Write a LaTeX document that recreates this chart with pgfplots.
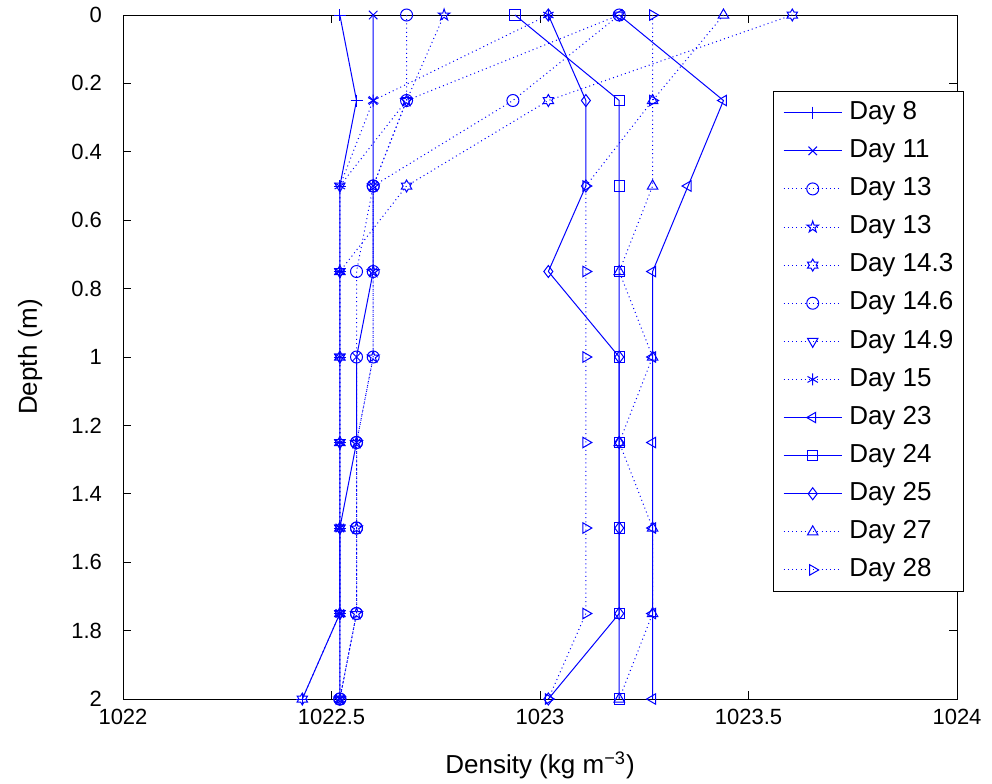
\documentclass[border=0pt]{standalone}
\usepackage{pgfplots}
\pgfplotsset{compat=1.18}
\usepackage{fontspec}
\setmainfont{Liberation Sans}
\usetikzlibrary{plotmarks}

\pgfdeclareplotmark{pentagram}{%
 \pgfpathmoveto{\pgfpointpolar{90}{\pgfplotmarksize}}%
 \pgfpathlineto{\pgfpointpolar{126}{0.382*\pgfplotmarksize}}%
 \pgfpathlineto{\pgfpointpolar{162}{\pgfplotmarksize}}%
 \pgfpathlineto{\pgfpointpolar{198}{0.382*\pgfplotmarksize}}%
 \pgfpathlineto{\pgfpointpolar{234}{\pgfplotmarksize}}%
 \pgfpathlineto{\pgfpointpolar{270}{0.382*\pgfplotmarksize}}%
 \pgfpathlineto{\pgfpointpolar{306}{\pgfplotmarksize}}%
 \pgfpathlineto{\pgfpointpolar{342}{0.382*\pgfplotmarksize}}%
 \pgfpathlineto{\pgfpointpolar{18}{\pgfplotmarksize}}%
 \pgfpathlineto{\pgfpointpolar{54}{0.382*\pgfplotmarksize}}%
 \pgfpathclose\pgfusepathqstroke}
\pgfdeclareplotmark{hexagram}{%
 \pgfpathmoveto{\pgfpointpolar{90}{\pgfplotmarksize}}%
 \pgfpathlineto{\pgfpointpolar{120}{0.577*\pgfplotmarksize}}%
 \pgfpathlineto{\pgfpointpolar{150}{\pgfplotmarksize}}%
 \pgfpathlineto{\pgfpointpolar{180}{0.577*\pgfplotmarksize}}%
 \pgfpathlineto{\pgfpointpolar{210}{\pgfplotmarksize}}%
 \pgfpathlineto{\pgfpointpolar{240}{0.577*\pgfplotmarksize}}%
 \pgfpathlineto{\pgfpointpolar{270}{\pgfplotmarksize}}%
 \pgfpathlineto{\pgfpointpolar{300}{0.577*\pgfplotmarksize}}%
 \pgfpathlineto{\pgfpointpolar{330}{\pgfplotmarksize}}%
 \pgfpathlineto{\pgfpointpolar{0}{0.577*\pgfplotmarksize}}%
 \pgfpathlineto{\pgfpointpolar{30}{\pgfplotmarksize}}%
 \pgfpathlineto{\pgfpointpolar{60}{0.577*\pgfplotmarksize}}%
 \pgfpathclose\pgfusepathqstroke}

\tikzset{mydot/.style={dash pattern=on 0.5pt off 1.6pt}}

\begin{document}
\begin{tikzpicture}
\begin{axis}[
  scale only axis, width=417pt, height=342pt,
  xmin=1022, xmax=1024, ymin=0, ymax=2, y dir=reverse,
  xtick={1022,1022.5,1023,1023.5,1024},
  xticklabels={1022,1022.5,1023,1023.5,1024},
  ytick={0,0.2,0.4,0.6,0.8,1,1.2,1.4,1.6,1.8,2},
  yticklabels={0,0.2,0.4,0.6,0.8,1,1.2,1.4,1.6,1.8,2},
  tick align=inside, major tick length=4pt,
  tick style={black, line width=0.4pt},
  axis line style={black, line width=0.5pt},
  ticklabel style={font=\fontsize{11}{13}\selectfont},
  xticklabel style={yshift=-1.5pt},
  yticklabel style={xshift=-7pt},
  xlabel={Density (kg m\textsuperscript{−3})},
  ylabel={Depth (m)},
  xlabel style={font=\fontsize{13}{15}\selectfont, at={([yshift=-37pt]axis description cs:0.5,0)}, anchor=base},
  ylabel style={font=\fontsize{13}{15}\selectfont, at={([xshift=-43pt]axis description cs:0,0.5)}, anchor=base, rotate=0},
  clip=false,
  every axis plot/.append style={blue, line width=0.5pt, mark size=3pt},
  legend image code/.code={\draw[mark repeat=2,mark phase=2,#1] plot coordinates {(0cm,0cm) (0.51cm,0cm) (1.02cm,0cm)};},
  legend style={at={(0.779,0.889)}, anchor=north west, draw=black, line width=0.5pt,
    font=\fontsize{13}{15}\selectfont, inner xsep=5pt, inner ysep=4.5pt,
    row sep=6.75pt, column sep=3.5pt,
    nodes={inner sep=0pt, text height=9.5pt, text depth=2.8pt}},
  legend cell align=left,
]
\coordinate (sw) at (axis description cs:0,0);
\coordinate (ne) at (axis description cs:1,1);
% Day 8
\addplot[mark=+, mark options={solid}] coordinates {
(1022.52,0) (1022.56,0.25) (1022.52,0.5) (1022.52,0.75) (1022.52,1) (1022.52,1.25) (1022.52,1.5) (1022.52,1.75) (1022.43,2)};
% Day 11
\addplot[mark=x, mark options={solid}] coordinates {
(1022.60,0) (1022.60,0.25) (1022.60,0.5) (1022.60,0.75) (1022.56,1) (1022.56,1.25) (1022.52,1.5) (1022.52,1.75) (1022.52,2)};
% Day 13 circle
\addplot[mydot, mark=o, mark options={solid}] coordinates {
(1022.68,0) (1022.68,0.25) (1022.60,0.5) (1022.56,0.75) (1022.56,1) (1022.56,1.25) (1022.56,1.5) (1022.56,1.75) (1022.52,2)};
% Day 13 pentagram
\addplot[mydot, mark=pentagram, mark options={solid}] coordinates {
(1022.77,0) (1022.68,0.25) (1022.60,0.5) (1022.60,0.75) (1022.60,1) (1022.56,1.25) (1022.56,1.5) (1022.56,1.75) (1022.52,2)};
% Day 14.3 hexagram
\addplot[mydot, mark=hexagram, mark options={solid}] coordinates {
(1023.605,0) (1023.02,0.25) (1022.68,0.5) (1022.52,0.75) (1022.52,1) (1022.52,1.25) (1022.52,1.5) (1022.52,1.75) (1022.43,2)};
% Day 14.6 circle
\addplot[mydot, mark=o, mark options={solid}] coordinates {
(1023.19,0) (1022.935,0.25) (1022.60,0.5) (1022.60,0.75) (1022.60,1) (1022.56,1.25) (1022.56,1.5) (1022.56,1.75) (1022.52,2)};
% Day 14.9 down triangle
\addplot[mydot, mark=triangle, mark options={solid, rotate=180}] coordinates {
(1023.19,0) (1022.68,0.25) (1022.52,0.5) (1022.52,0.75) (1022.52,1) (1022.52,1.25) (1022.52,1.5) (1022.52,1.75) (1022.52,2)};
% Day 15 asterisk
\addplot[mydot, mark=asterisk, mark options={solid}] coordinates {
(1023.02,0) (1022.60,0.25) (1022.52,0.5) (1022.52,0.75) (1022.52,1) (1022.52,1.25) (1022.52,1.5) (1022.52,1.75) (1022.52,2)};
% Day 23 left triangle
\addplot[mark=triangle, mark options={solid, rotate=90}] coordinates {
(1023.19,0) (1023.44,0.25) (1023.355,0.5) (1023.27,0.75) (1023.27,1) (1023.27,1.25) (1023.27,1.5) (1023.27,1.75) (1023.27,2)};
% Day 24 square
\addplot[mark=square, mark options={solid}, mark size=2.6pt] coordinates {
(1022.94,0) (1023.19,0.25) (1023.19,0.5) (1023.19,0.75) (1023.19,1) (1023.19,1.25) (1023.19,1.5) (1023.19,1.75) (1023.19,2)};
% Day 25 diamond
\addplot[mark=diamond, mark options={solid}] coordinates {
(1023.02,0) (1023.11,0.25) (1023.11,0.5) (1023.02,0.75) (1023.19,1) (1023.19,1.25) (1023.19,1.5) (1023.19,1.75) (1023.02,2)};
% Day 27 up triangle
\addplot[mydot, mark=triangle, mark options={solid}] coordinates {
(1023.44,0) (1023.27,0.25) (1023.27,0.5) (1023.19,0.75) (1023.27,1) (1023.19,1.25) (1023.27,1.5) (1023.27,1.75) (1023.19,2)};
% Day 28 right triangle
\addplot[mydot, mark=triangle, mark options={solid, rotate=-90}] coordinates {
(1023.27,0) (1023.27,0.25) (1023.11,0.5) (1023.11,0.75) (1023.11,1) (1023.11,1.25) (1023.11,1.5) (1023.11,1.75) (1023.02,2)};
\legend{Day 8, Day 11, Day 13, Day 13, Day 14.3, Day 14.6, Day 14.9, Day 15, Day 23, Day 24, Day 25, Day 27, Day 28}
\end{axis}
\pgfresetboundingbox
\path[use as bounding box] ([xshift=-61.5pt,yshift=-42pt]sw) rectangle ([xshift=17.5pt,yshift=7.5pt]ne);
\end{tikzpicture}
\end{document}
